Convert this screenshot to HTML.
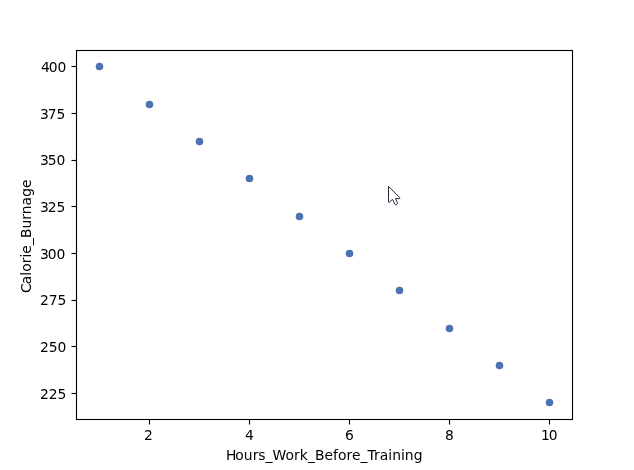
<!DOCTYPE html>
<html><head><meta charset="utf-8"><title>Scatter</title>
<style>
html,body{margin:0;padding:0;background:#fff;}
body{width:634px;height:470px;overflow:hidden;}
svg{display:block;}
text{font-family:"DejaVu Sans","Liberation Sans",sans-serif;font-size:13.89px;fill:#000;}
</style></head><body>
<svg width="634" height="470" viewBox="0 0 634 470">
<rect x="0" y="0" width="634" height="470" fill="#ffffff"/>
<circle cx="99.5" cy="66.5" r="3.8" fill="#4c72b0"/>
<circle cx="149.5" cy="104.5" r="3.8" fill="#4c72b0"/>
<circle cx="199.5" cy="141.5" r="3.8" fill="#4c72b0"/>
<circle cx="249.5" cy="178.5" r="3.8" fill="#4c72b0"/>
<circle cx="299.5" cy="216.5" r="3.8" fill="#4c72b0"/>
<circle cx="349.5" cy="253.5" r="3.8" fill="#4c72b0"/>
<circle cx="399.5" cy="290.5" r="3.8" fill="#4c72b0"/>
<circle cx="449.5" cy="328.5" r="3.8" fill="#4c72b0"/>
<circle cx="499.5" cy="365.5" r="3.8" fill="#4c72b0"/>
<circle cx="549.5" cy="402.5" r="3.8" fill="#4c72b0"/>
<rect x="76.5" y="50.5" width="496.0" height="369.0" fill="none" stroke="#000" stroke-width="1.11"/>
<line x1="149.5" y1="419.5" x2="149.5" y2="424.50" stroke="#000" stroke-width="1.11"/>
<line x1="249.5" y1="419.5" x2="249.5" y2="424.50" stroke="#000" stroke-width="1.11"/>
<line x1="349.5" y1="419.5" x2="349.5" y2="424.50" stroke="#000" stroke-width="1.11"/>
<line x1="449.5" y1="419.5" x2="449.5" y2="424.50" stroke="#000" stroke-width="1.11"/>
<line x1="549.5" y1="419.5" x2="549.5" y2="424.50" stroke="#000" stroke-width="1.11"/>
<line x1="71.50" y1="66.5" x2="76.5" y2="66.5" stroke="#000" stroke-width="1.11"/>
<line x1="71.50" y1="113.5" x2="76.5" y2="113.5" stroke="#000" stroke-width="1.11"/>
<line x1="71.50" y1="160.5" x2="76.5" y2="160.5" stroke="#000" stroke-width="1.11"/>
<line x1="71.50" y1="206.5" x2="76.5" y2="206.5" stroke="#000" stroke-width="1.11"/>
<line x1="71.50" y1="253.5" x2="76.5" y2="253.5" stroke="#000" stroke-width="1.11"/>
<line x1="71.50" y1="300.5" x2="76.5" y2="300.5" stroke="#000" stroke-width="1.11"/>
<line x1="71.50" y1="346.5" x2="76.5" y2="346.5" stroke="#000" stroke-width="1.11"/>
<line x1="71.50" y1="393.5" x2="76.5" y2="393.5" stroke="#000" stroke-width="1.11"/>
<text x="143.875" y="439.5">2</text>
<text x="244.875" y="439.5">4</text>
<text x="344.875" y="439.5">6</text>
<text x="444.875" y="439.5">8</text>
<text x="540.975 548.85" y="439.5">10</text>
<text x="40.875 48.625 57.375" y="71.5">400</text>
<text x="39.875 47.625 56.375" y="118.5">375</text>
<text x="39.875 47.625 56.375" y="164.5">350</text>
<text x="39.875 47.625 56.375" y="211.5">325</text>
<text x="39.875 47.625 56.375" y="258.5">300</text>
<text x="39.875 48.625 57.375" y="304.5">275</text>
<text x="39.875 48.625 57.375" y="351.5">250</text>
<text x="39.875 48.625 57.375" y="398.5">225</text>
<text x="225.875 235.25 243.75 252.75 258.25 265.375 272.375 285.375 293.875 299.625 308 315 324.375 332.875 337.875 346.375 351.875 360.375 367.375 373.875 379.625 388.25 392.125 400.875 404.75 413.75" y="459.5">Hours_Work_Before_Training</text>
<text transform="translate(30.5,293.875) rotate(-90)" x="1 9.75 18.125 22.25 30.75 36.5 40.125 48.875 55.875 65.5 74.25 79.75 88.5 97.125 106" y="0">Calorie_Burnage</text>
<path d="M388.5,186.3 L388.5,201.9 Q388.6,202.8 389.4,202.2 L392.5,199.3 L394.8,204.1 Q395.5,205.3 396.6,204.7 Q397.8,204 397.3,202.7 L395.6,198.6 L399.4,198.6 Q400.3,198.4 399.7,197.6 Z" fill="#fff" stroke="#1b1b2f" stroke-width="0.95" stroke-linejoin="round"/>
</svg>
</body></html>
